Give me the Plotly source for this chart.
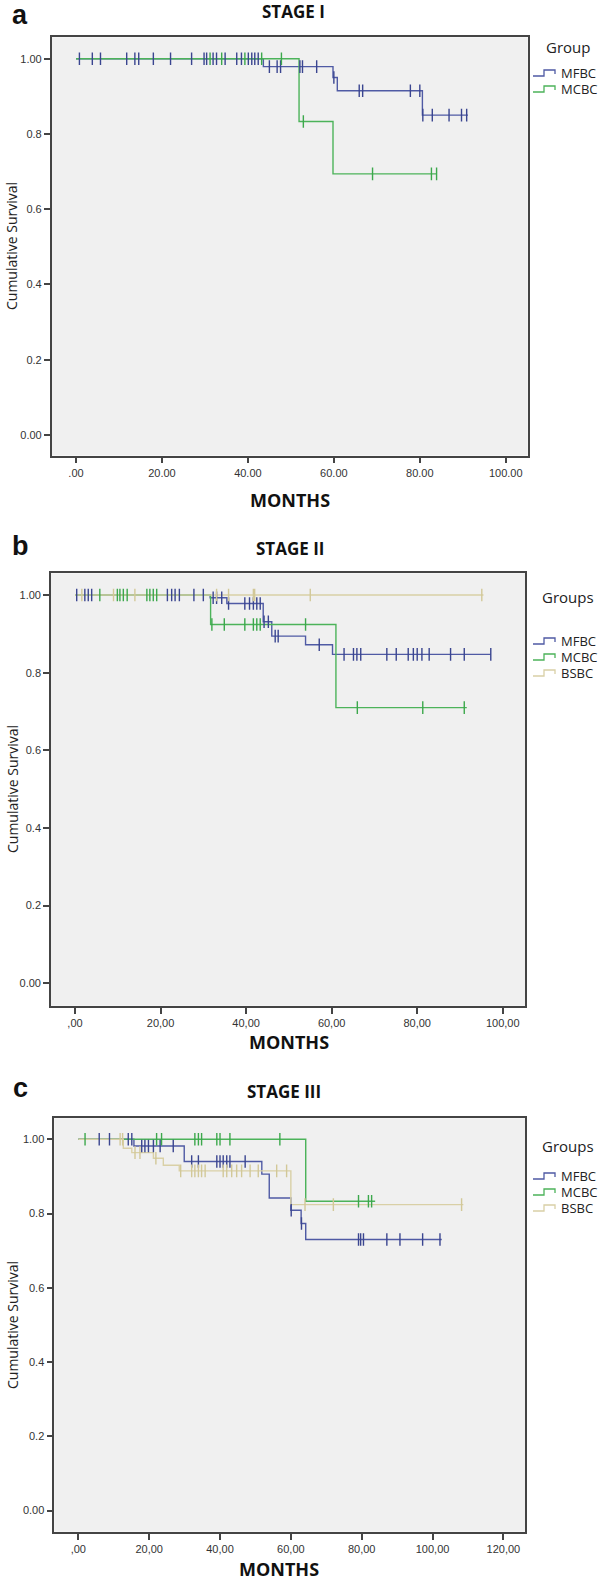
import plotly.graph_objects as go

W, H = 600, 1582

# ---------------- DATA ----------------
# Panel a (STAGE I)
a_mfbc_event_t = [43.6, 59.8, 60.8, 80.6]
a_mfbc_event_s = [0.979, 0.95, 0.915, 0.85]
a_mfbc_end = 91.2
a_mfbc_cens = [0.8, 3.8, 5.7, 11.8, 13.7, 14.6, 18.0, 22.0, 26.9, 29.8, 30.4, 31.9, 32.7,
               34.7, 37.4, 38.5, 40.1, 40.9, 41.6, 42.4, 45.0, 46.8, 47.6, 52.1, 52.7, 56.0,
               60.0, 65.9, 66.7, 77.8, 80.0, 80.7, 82.9, 86.8, 89.7, 90.9]
a_mcbc_event_t = [51.9, 59.8]
a_mcbc_event_s = [0.833, 0.694]
a_mcbc_end = 83.9
a_mcbc_cens = [31.2, 33.9, 39.3, 43.2, 47.8, 52.9, 69.0, 82.7, 83.9]

# Panel b (STAGE II)
b_mfbc_event_t = [31.6, 35.5, 44.0, 46.0, 53.9, 60.2]
b_mfbc_event_s = [0.993, 0.978, 0.931, 0.894, 0.872, 0.847]
b_mfbc_end = 97.2
b_mfbc_cens = [0.4, 2.3, 3.1, 3.9, 21.6, 22.6, 23.4, 24.4, 27.8, 30.0, 32.3, 33.1, 34.3,
               35.9, 39.7, 40.8, 41.7, 42.5, 43.3, 44.2, 45.2, 46.8, 47.5, 57.1, 62.9, 65.1,
               65.9, 66.8, 72.9, 75.1, 77.9, 79.1, 80.0, 81.1, 82.8, 87.8, 91.0, 97.2]
b_mcbc_event_t = [31.7, 61.0]
b_mcbc_event_s = [0.924, 0.710]
b_mcbc_end = 91.6
b_mcbc_cens = [5.8, 9.9, 10.5, 11.3, 12.2, 16.8, 17.5, 18.3, 19.1, 32.0, 34.9, 39.7, 41.7,
               42.5, 43.3, 53.9, 66.0, 81.3, 91.0]
b_bsbc_event_t = []
b_bsbc_event_s = []
b_bsbc_end = 95.5
b_bsbc_cens = [1.6, 9.0, 14.0, 33.1, 35.9, 41.7, 42.0, 55.0, 95.1]

# Panel c (STAGE III)
c_mfbc_event_t = [15.7, 29.9, 51.8, 53.9, 60.0, 62.9, 64.2]
c_mfbc_event_s = [0.982, 0.94, 0.906, 0.842, 0.809, 0.773, 0.73]
c_mfbc_end = 102.6
c_mfbc_cens = [5.9, 8.8, 14.1, 15.1, 17.9, 18.8, 19.8, 21.2, 23.1, 26.8, 32.0, 33.9, 39.1,
               40.0, 40.9, 41.9, 42.8, 47.1, 60.1, 63.0, 79.1, 79.7, 80.5, 87.1, 90.8, 97.2, 102.1]
c_mcbc_event_t = [64.2]
c_mcbc_event_s = [0.833]
c_mcbc_end = 83.8
c_mcbc_cens = [1.9, 22.1, 23.5, 32.9, 33.9, 34.8, 39.1, 40.0, 42.8, 56.9, 79.1, 81.9, 82.8]
c_bsbc_event_t = [12.7, 15.1, 21.2, 24.0, 28.5, 60.0]
c_bsbc_event_s = [0.976, 0.964, 0.949, 0.93, 0.915, 0.824]
c_bsbc_end = 108.7
c_bsbc_cens = [11.8, 12.5, 16.0, 17.4, 21.9, 28.9, 32.0, 32.9, 33.9, 34.8, 35.8, 40.9, 41.9,
               43.3, 44.7, 46.1, 48.5, 50.8, 56.0, 58.8, 64.0, 72.0, 108.2]

y_tickvals = [0, 0.2, 0.4, 0.6, 0.8, 1.0]
y_ticktext = ["0.00", "0.2", "0.4", "0.6", "0.8", "1.00"]
a_xticks = [0, 20, 40, 60, 80, 100]
a_xtext = [".00", "20.00", "40.00", "60.00", "80.00", "100.00"]
b_xticks = [0, 20, 40, 60, 80, 100]
b_xtext = [",00", "20,00", "40,00", "60,00", "80,00", "100,00"]
c_xticks = [0, 20, 40, 60, 80, 100, 120]
c_xtext = [",00", "20,00", "40,00", "60,00", "80,00", "100,00", "120,00"]

# ---------------- STYLE ----------------
COL = {"MFBC": "#4f5aa4", "MCBC": "#4cb35a", "BSBC": "#d9d0a6"}
MCOL = {"MFBC": "#3a4590", "MCBC": "#3ca84c", "BSBC": "#d2c898"}
FRAME = "#444444"


def px(x):
    return x / W


def py(y):
    return 1 - y / H


def surv_at(t, ev_t, ev_s):
    s = 1.0
    for et, es in zip(ev_t, ev_s):
        if t >= et:
            s = es
    return s


fig = go.Figure()

panels = [
    dict(ax="", xdom=(51.7, 527.7), ydom=(37.3, 455.5), xr=(-5.65, 105.1), yr=(-0.0545, 1.0569),
         xt=a_xticks, xl=a_xtext,
         series=[("MFBC", a_mfbc_event_t, a_mfbc_event_s, a_mfbc_end, a_mfbc_cens),
                 ("MCBC", a_mcbc_event_t, a_mcbc_event_s, a_mcbc_end, a_mcbc_cens)]),
    dict(ax="2", xdom=(51.0, 525.0), ydom=(573.3, 1005.7), xr=(-5.61, 105.2), yr=(-0.0577, 1.0559),
         xt=b_xticks, xl=b_xtext,
         series=[("MFBC", b_mfbc_event_t, b_mfbc_event_s, b_mfbc_end, b_mfbc_cens),
                 ("MCBC", b_mcbc_event_t, b_mcbc_event_s, b_mcbc_end, b_mcbc_cens),
                 ("BSBC", b_bsbc_event_t, b_bsbc_event_s, b_bsbc_end, b_bsbc_cens)]),
    dict(ax="3", xdom=(54.3, 525.0), ydom=(1118.3, 1531.7), xr=(-6.78, 126.1), yr=(-0.0571, 1.0565),
         xt=c_xticks, xl=c_xtext,
         series=[("MFBC", c_mfbc_event_t, c_mfbc_event_s, c_mfbc_end, c_mfbc_cens),
                 ("MCBC", c_mcbc_event_t, c_mcbc_event_s, c_mcbc_end, c_mcbc_cens),
                 ("BSBC", c_bsbc_event_t, c_bsbc_event_s, c_bsbc_end, c_bsbc_cens)]),
]

layout = {}
for p in panels:
    xa = "x" + p["ax"]
    ya = "y" + p["ax"]
    for name, et, es, end, cens in p["series"]:
        xs = [0] + list(et) + [end]
        ys = [1.0] + list(es) + [es[-1] if es else 1.0]
        fig.add_trace(go.Scatter(x=xs, y=ys, mode="lines", line=dict(color=COL[name], width=1.4, shape="hv"),
                                 xaxis=xa, yaxis=ya, showlegend=False, hoverinfo="skip"))
    for name, et, es, end, cens in p["series"]:
        cy = [surv_at(t, et, es) for t in cens]
        fig.add_trace(go.Scatter(x=cens, y=cy, mode="markers",
                                 marker=dict(symbol="line-ns-open", size=9, color=MCOL[name],
                                             line=dict(color=MCOL[name], width=1.4)),
                                 xaxis=xa, yaxis=ya, showlegend=False, hoverinfo="skip"))
    common = dict(showline=True, linecolor=FRAME, linewidth=1.6, mirror=True, showgrid=False,
                  zeroline=False, ticks="outside", ticklen=6, tickwidth=1.6, tickcolor=FRAME,
                  tickfont=dict(family="Liberation Sans, Arial, sans-serif", size=11, color="#333"))
    layout["xaxis" + p["ax"]] = dict(domain=[px(p["xdom"][0]), px(p["xdom"][1])], range=list(p["xr"]),
                                     anchor=ya, tickvals=p["xt"], ticktext=p["xl"], **common)
    layout["yaxis" + p["ax"]] = dict(domain=[py(p["ydom"][1]), py(p["ydom"][0])], range=list(p["yr"]),
                                     anchor=xa, tickvals=y_tickvals, ticktext=y_ticktext, **common)

fig.update_layout(**layout)

ann = []
shapes = []
TF = "Open Sans, Noto Sans, sans-serif"


def text(x, y, s, size, bold=False, color="#111", angle=0, xanchor="center", family=TF):
    ann.append(dict(x=px(x), y=py(y), xref="paper", yref="paper", text=("<b>%s</b>" % s) if bold else s,
                    showarrow=False, xanchor=xanchor, yanchor="middle", textangle=angle,
                    font=dict(family=family, size=size, color=color)))


# panel letters
text(20, 15, "a", 27, bold=True, family="Liberation Sans, Arial, sans-serif")
text(20, 546, "b", 27, bold=True, family="Liberation Sans, Arial, sans-serif")
text(20, 1088, "c", 27, bold=True, family="Liberation Sans, Arial, sans-serif")
# titles
text(293, 12, "STAGE I", 17, bold=True)
text(290, 548, "STAGE II", 17, bold=True)
text(284, 1091, "STAGE III", 17, bold=True)
# x titles
text(290, 500, "MONTHS", 18, bold=True)
text(289, 1042, "MONTHS", 18, bold=True)
text(279, 1569, "MONTHS", 18, bold=True)
# y titles
text(12, 246, "Cumulative Survival", 14, angle=-90, color="#222")
text(12, 789, "Cumulative Survival", 14, angle=-90, color="#222")
text(12, 1325, "Cumulative Survival", 14, angle=-90, color="#222")

# legends
legends = [
    ("Group", 47, [("MFBC", 73), ("MCBC", 89)]),
    ("Groups", 597, [("MFBC", 641), ("MCBC", 657), ("BSBC", 673)]),
    ("Groups", 1146, [("MFBC", 1176), ("MCBC", 1192), ("BSBC", 1208)]),
]
for title, ty, items in legends:
    text(568, ty, title, 15, color="#222")
    for name, iy in items:
        text(559, iy, name, 13, color="#222", xanchor="left")
        path = "M %f %f L %f %f L %f %f L %f %f L %f %f" % (
            px(533), py(iy + 3), px(544), py(iy + 3), px(544), py(iy - 3), px(555), py(iy - 3),
            px(555), py(iy + 1))
        shapes.append(dict(type="path", xref="paper", yref="paper", path=path,
                           line=dict(color=COL[name], width=1.3)))

fig.update_layout(width=W, height=H, margin=dict(l=0, r=0, t=0, b=0), paper_bgcolor="white",
                  plot_bgcolor="#f0f0f0", annotations=ann, shapes=shapes, showlegend=False)

fig.write_html("out.html", config={"displayModeBar": False},
               post_script="document.body.style.margin='0';document.body.style.overflow='hidden';")
